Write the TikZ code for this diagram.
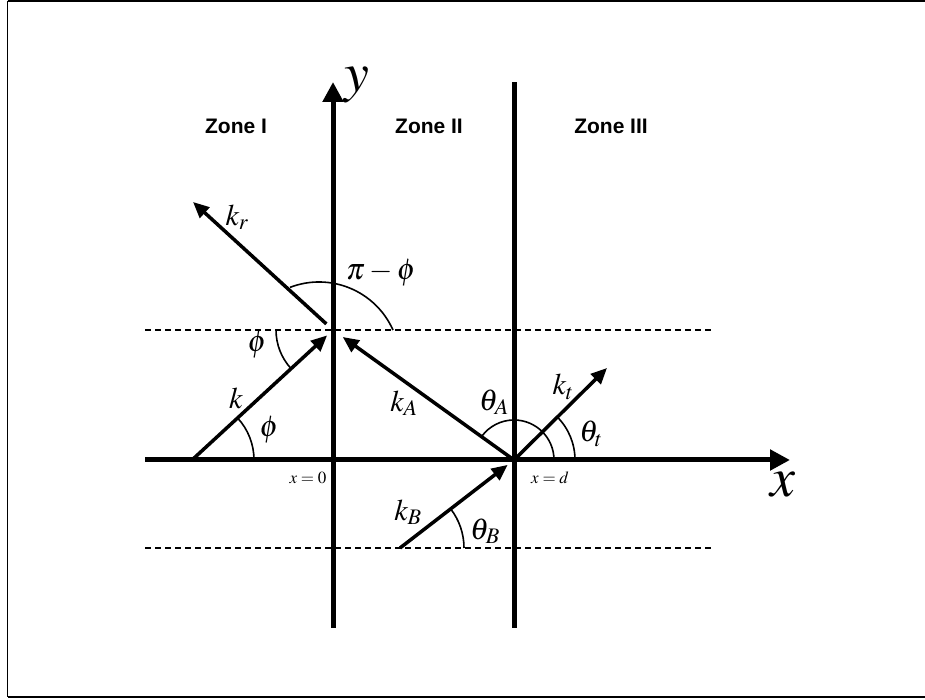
\documentclass[tikz,border=0pt]{standalone}
\usepackage{mathptmx}
\usepackage[no-math]{fontspec}
\newfontfamily\zonefont{Liberation Sans}
\usepackage{tikz}
\usetikzlibrary{arrows.meta}
\tikzset{
  axisline/.style={line width=5pt, -{Triangle[length=20pt, width=20pt]}},
  wall/.style={line width=5pt},
  wavevec/.style={line width=3.5pt, -{Triangle[length=16pt, width=14pt]}},
  guide/.style={line width=1.5pt, dash pattern=on 6pt off 4pt},
  anglearc/.style={line width=1.6pt},
  zonelabel/.style={font=\zonefont\bfseries\fontsize{21}{25}\selectfont, inner sep=0pt},
  veclabel/.style={font=\fontsize{30}{34}\selectfont, inner sep=0pt},
  poslabel/.style={font=\fontsize{17}{20}\selectfont, inner sep=0pt},
  axislabel/.style={font=\fontsize{56}{60}\selectfont, inner sep=0pt}
}

\begin{document}
\begin{tikzpicture}[x=1pt, y=1pt]

% --- Page frame ---
\useasboundingbox (0,0) rectangle (925,700);
\draw[line width=2pt] (7.5,699) -- (925,699);
\draw[line width=1.3pt] (7.5,699) -- (7.5,3);
\draw[line width=2.2pt] (7.5,3) -- (925,3);

% --- Positions ---
\def\xzero{333}
\def\xwall{514}
\def\yaxis{240}
\def\yup{370}
\def\ydown{152}

\coordinate (O) at (\xzero,\yup);   % reflection point on x = 0
\coordinate (D) at (\xwall,\yaxis); % origin of the x = d wall
\coordinate (xl) at (145,\yaxis);
\coordinate (xr) at (790,\yaxis);
\coordinate (yb) at (\xzero,72);
\coordinate (yt) at (\xzero,618);
\coordinate (wb) at (\xwall,72);
\coordinate (wt) at (\xwall,618);
\coordinate (gul) at (145,\yup);
\coordinate (gur) at (712,\yup);
\coordinate (gdl) at (145,\ydown);
\coordinate (gdr) at (712,\ydown);

% --- Guides (dashed) ---
\draw[guide] (gul) -- (gur);
\draw[guide] (gdl) -- (gdr);

% --- Axes and wall ---
\draw[axisline] (xl) -- (xr);
\draw[axisline] (yb) -- (yt);
\draw[wall] (wb) -- (wt);

\node[axislabel] (xlab) at (783,215) {$x$};
\node[axislabel] (ylab) at (357,615) {$y$};

% --- Zone labels ---
\node[zonelabel] (zone1) at (236,574) {Zone I};
\node[zonelabel] (zone2) at (429,574) {Zone II};
\node[zonelabel] (zone3) at (611,574) {Zone III};

\node[poslabel] (xzero) at (308,222) {$x=0$};
\node[poslabel] (xd) at (550,222) {$x=d$};

% --- Wave vectors ---
\coordinate (kstart) at (192,\yaxis);
\coordinate (krend) at (193,498);
\coordinate (ktend) at (607,332);
\coordinate (kBstart) at (400,\ydown);

\draw[wavevec, shorten >=8pt] (kstart) -- (O);
\draw[wavevec, shorten <=9pt] (O) -- (krend);
\draw[wavevec, shorten >=12pt] (D) -- (O);
\draw[wavevec] (D) -- (ktend);
\draw[wavevec, shorten >=8pt] (kBstart) -- (D);

\node[veclabel] (k) at (236,302) {$k$};
\node[veclabel] (kr) at (237,483) {$k_r$};
\node[veclabel] (kA) at (404,297) {$k_A$};
\node[veclabel] (kt) at (563,313) {$k_t$};
\node[veclabel] (kB) at (408,188) {$k_B$};

% --- Angles ---
\coordinate (pcentre) at (319,337);
\draw[anglearc] (kstart) ++(0:62pt) arc[start angle=0, end angle=42.6, radius=62pt];
\draw[anglearc] (O) ++(180:57pt) arc[start angle=180, end angle=222.6, radius=57pt];
\draw[anglearc] (pcentre) ++(24:81pt) arc[start angle=24, end angle=111, radius=81pt];
\draw[anglearc] (D) ++(0:40pt) arc[start angle=0, end angle=144.3, radius=40pt];
\draw[anglearc] (D) ++(0:61pt) arc[start angle=0, end angle=45, radius=61pt];
\draw[anglearc] (kBstart) ++(0:64pt) arc[start angle=0, end angle=37.7, radius=64pt];

\node[veclabel] (phi1) at (269,270) {$\phi$};
\node[veclabel] (phi2) at (257,355) {$\phi$};
\node[veclabel] (pimphi) at (381,427) {$\pi-\phi$};
\node[veclabel] (thA) at (494,298) {$\theta_A$};
\node[veclabel] (tht) at (591,266) {$\theta_t$};
\node[veclabel] (thB) at (485,169) {$\theta_B$};

\end{tikzpicture}
\end{document}
